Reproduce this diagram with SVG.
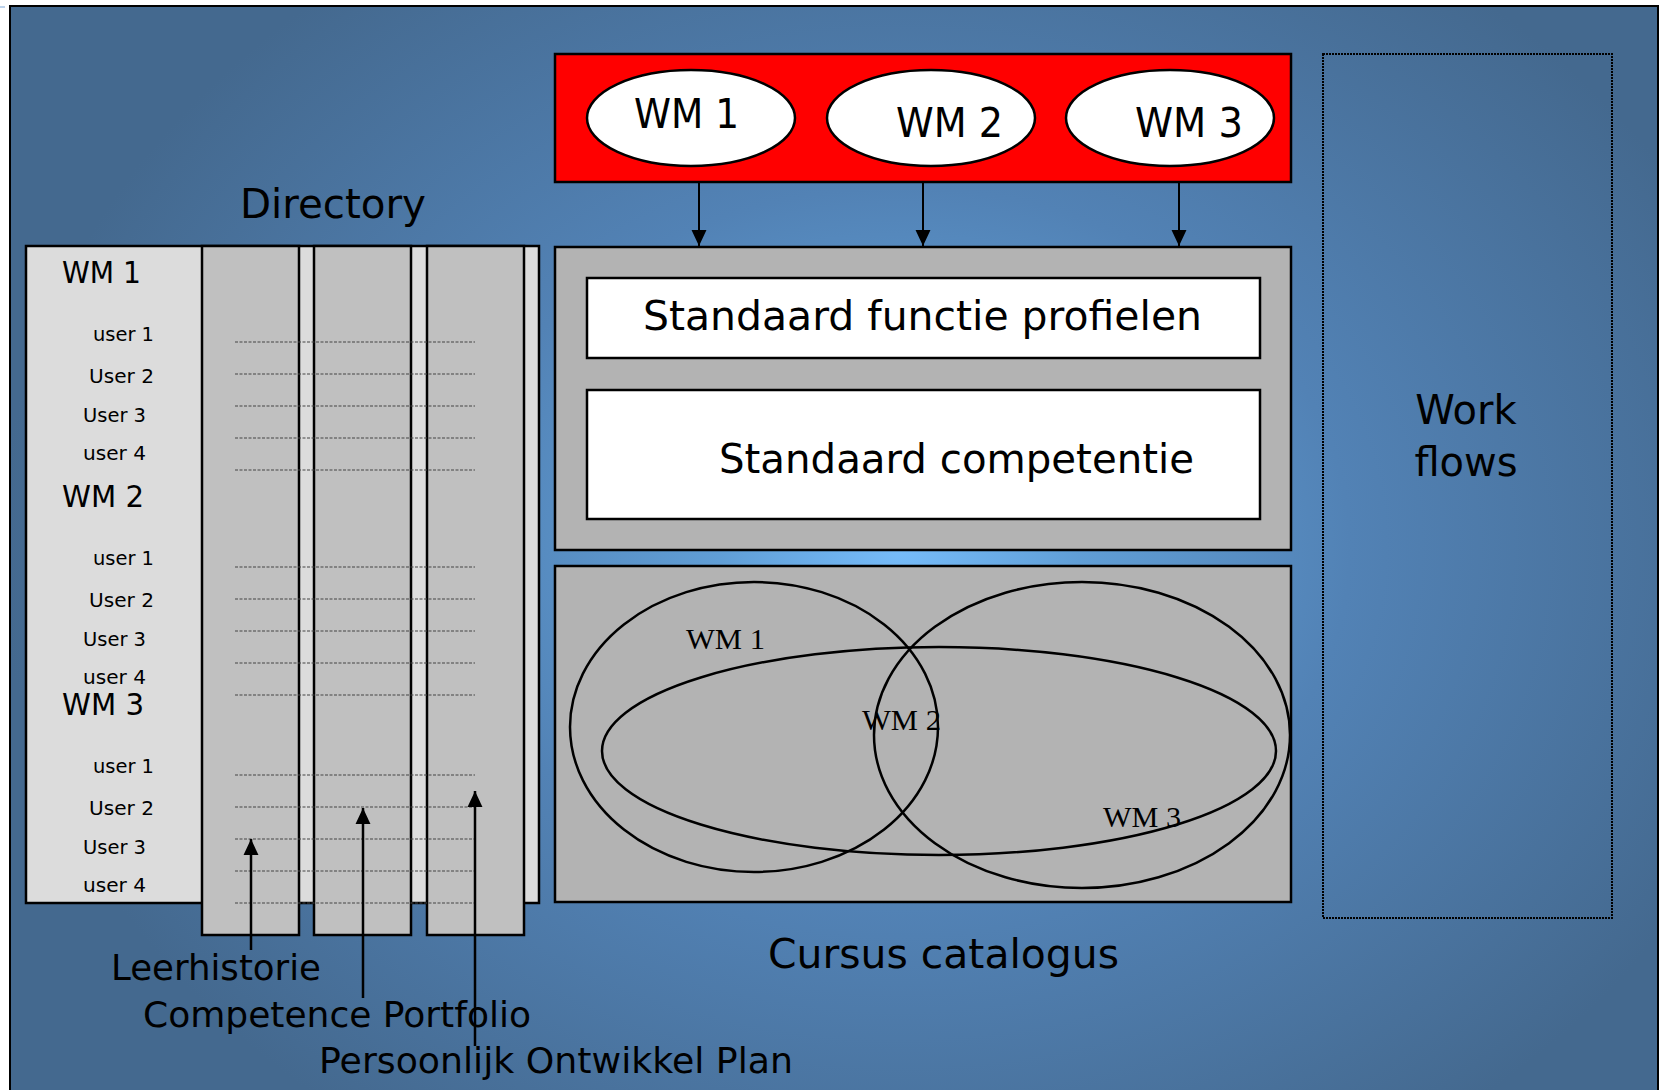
<svg xmlns="http://www.w3.org/2000/svg" width="1662" height="1090" viewBox="0 0 1662 1090">
<defs>
<radialGradient id="bg" gradientUnits="userSpaceOnUse" cx="900" cy="548" r="900" gradientTransform="translate(900 548) scale(1 0.8) translate(-900 -548)">
<stop offset="0" stop-color="#76bcfa"/>
<stop offset="0.2" stop-color="#609ed6"/>
<stop offset="0.5" stop-color="#5282b5"/>
<stop offset="1" stop-color="#44698f"/>
</radialGradient>
<marker id="ah" markerUnits="userSpaceOnUse" markerWidth="16" markerHeight="16" viewBox="0 0 15 14" refX="15" refY="7" orient="auto">
<path d="M0,0 L15,7 L0,14 z" fill="#000"/>
</marker>
<style>
.t{font-family:"DejaVu Sans","Liberation Sans",sans-serif;fill:#000}
.s{font-family:"Liberation Serif","Times New Roman",serif;fill:#000}
.box{stroke:#000;stroke-width:2.5}
.dot{stroke:#444;stroke-width:1;stroke-dasharray:3 1.5;fill:none}
.con{stroke:#000;stroke-width:2;fill:none;marker-end:url(#ah)}
.con2{stroke:#000;stroke-width:2.5;fill:none;marker-end:url(#ah)}
.ell{fill:none;stroke:#000;stroke-width:2.5}
</style>
</defs>
<rect x="0" y="0" width="1662" height="1090" fill="#ffffff"/>
<rect id="frame" x="10" y="6" width="1648" height="1100" fill="url(#bg)" stroke="#000" stroke-width="2"/>
<line x1="0" y1="7" x2="5" y2="7" stroke="#7aa6d8" stroke-width="1"/>

<g id="directory-title">
<text class="t" x="240" y="218" font-size="41" textLength="186" lengthAdjust="spacingAndGlyphs">Directory</text>
</g>

<g id="directory-panel">
<rect class="box" x="26" y="246" width="513" height="657" fill="#dcdcdc"/>
<rect class="box" x="202" y="246" width="97" height="689" fill="#c0c0c0" stroke-width="3"/>
<rect class="box" x="314" y="246" width="97" height="689" fill="#c0c0c0" stroke-width="3"/>
<rect class="box" x="427" y="246" width="97" height="689" fill="#c0c0c0" stroke-width="3"/>
<g class="dot">
<line x1="235" y1="342" x2="475" y2="342"/>
<line x1="235" y1="374" x2="475" y2="374"/>
<line x1="235" y1="406" x2="475" y2="406"/>
<line x1="235" y1="438" x2="475" y2="438"/>
<line x1="235" y1="470" x2="475" y2="470"/>
<line x1="235" y1="567" x2="475" y2="567"/>
<line x1="235" y1="599" x2="475" y2="599"/>
<line x1="235" y1="631" x2="475" y2="631"/>
<line x1="235" y1="663" x2="475" y2="663"/>
<line x1="235" y1="695" x2="475" y2="695"/>
<line x1="235" y1="775" x2="475" y2="775"/>
<line x1="235" y1="807" x2="475" y2="807"/>
<line x1="235" y1="839" x2="475" y2="839"/>
<line x1="235" y1="871" x2="475" y2="871"/>
<line x1="235" y1="903" x2="475" y2="903"/>
</g>
<text class="t" x="62" y="283" font-size="30" textLength="79" lengthAdjust="spacingAndGlyphs">WM 1</text>
<text class="t" x="93" y="341" font-size="20" textLength="61" lengthAdjust="spacingAndGlyphs">user 1</text>
<text class="t" x="89" y="383" font-size="20" textLength="65" lengthAdjust="spacingAndGlyphs">User 2</text>
<text class="t" x="83" y="422" font-size="20" textLength="63" lengthAdjust="spacingAndGlyphs">User 3</text>
<text class="t" x="83" y="460" font-size="20" textLength="63" lengthAdjust="spacingAndGlyphs">user 4</text>
<text class="t" x="62" y="507" font-size="30" textLength="82" lengthAdjust="spacingAndGlyphs">WM 2</text>
<text class="t" x="93" y="565" font-size="20" textLength="61" lengthAdjust="spacingAndGlyphs">user 1</text>
<text class="t" x="89" y="607" font-size="20" textLength="65" lengthAdjust="spacingAndGlyphs">User 2</text>
<text class="t" x="83" y="646" font-size="20" textLength="63" lengthAdjust="spacingAndGlyphs">User 3</text>
<text class="t" x="83" y="684" font-size="20" textLength="63" lengthAdjust="spacingAndGlyphs">user 4</text>
<text class="t" x="62" y="715" font-size="30" textLength="82" lengthAdjust="spacingAndGlyphs">WM 3</text>
<text class="t" x="93" y="773" font-size="20" textLength="61" lengthAdjust="spacingAndGlyphs">user 1</text>
<text class="t" x="89" y="815" font-size="20" textLength="65" lengthAdjust="spacingAndGlyphs">User 2</text>
<text class="t" x="83" y="854" font-size="20" textLength="63" lengthAdjust="spacingAndGlyphs">User 3</text>
<text class="t" x="83" y="892" font-size="20" textLength="63" lengthAdjust="spacingAndGlyphs">user 4</text>
</g>

<g id="wm-bar">
<rect class="box" x="555" y="54" width="736" height="128" fill="#ff0000"/>
<ellipse class="box" cx="691" cy="118" rx="104" ry="48" fill="#fff"/>
<ellipse class="box" cx="931" cy="118" rx="104" ry="48" fill="#fff"/>
<ellipse class="box" cx="1170" cy="118" rx="104" ry="48" fill="#fff"/>
<text class="t" x="634" y="128" font-size="40" textLength="105" lengthAdjust="spacingAndGlyphs">WM 1</text>
<text class="t" x="896" y="137" font-size="40" textLength="107" lengthAdjust="spacingAndGlyphs">WM 2</text>
<text class="t" x="1135" y="137" font-size="40" textLength="108" lengthAdjust="spacingAndGlyphs">WM 3</text>
</g>

<g id="standaard-box">
<rect class="box" x="555" y="247" width="736" height="303" fill="#b3b3b3"/>
<rect class="box" x="587" y="278" width="673" height="80" fill="#fff"/>
<rect class="box" x="587" y="390" width="673" height="129" fill="#fff"/>
<text class="t" x="643" y="330" font-size="41" textLength="559" lengthAdjust="spacingAndGlyphs">Standaard functie profielen</text>
<text class="t" x="719" y="473" font-size="41" textLength="475" lengthAdjust="spacingAndGlyphs">Standaard competentie</text>
</g>

<g id="cursus-catalogus">
<rect class="box" x="555" y="566" width="736" height="336" fill="#b3b3b3"/>
<ellipse class="ell" cx="754" cy="727" rx="184" ry="145"/>
<ellipse class="ell" cx="1082" cy="735" rx="208" ry="153"/>
<ellipse class="ell" cx="939" cy="751" rx="337" ry="104"/>
<text class="s" x="686" y="649" font-size="29" textLength="79" lengthAdjust="spacingAndGlyphs">WM 1</text>
<text class="s" x="862" y="730" font-size="29" textLength="79" lengthAdjust="spacingAndGlyphs">WM 2</text>
<text class="s" x="1103" y="827" font-size="29" textLength="78" lengthAdjust="spacingAndGlyphs">WM 3</text>
<text class="t" x="768" y="968" font-size="40" textLength="351" lengthAdjust="spacingAndGlyphs">Cursus catalogus</text>
</g>

<g id="workflows">
<rect x="1323" y="54" width="289" height="864" fill="none" stroke="#000" stroke-width="2" stroke-dasharray="2 1"/>
<text class="t" x="1466" y="424" font-size="40" text-anchor="middle">Work</text>
<text class="t" x="1466" y="476" font-size="40" text-anchor="middle">flows</text>
</g>

<g id="leerhistorie">
<text class="t" x="111" y="980" font-size="36" textLength="210" lengthAdjust="spacingAndGlyphs">Leerhistorie</text>
</g>
<g id="competence-portfolio">
<text class="t" x="143" y="1027" font-size="36" textLength="388" lengthAdjust="spacingAndGlyphs">Competence Portfolio</text>
</g>
<g id="persoonlijk-ontwikkel-plan">
<text class="t" x="319" y="1073" font-size="36" textLength="474" lengthAdjust="spacingAndGlyphs">Persoonlijk Ontwikkel Plan</text>
</g>

<g id="connectors">
<line class="con" x1="699" y1="183" x2="699" y2="246"/>
<line class="con" x1="923" y1="183" x2="923" y2="246"/>
<line class="con" x1="1179" y1="183" x2="1179" y2="246"/>
<line class="con2" x1="251" y1="950" x2="251" y2="839"/>
<line class="con2" x1="363" y1="998" x2="363" y2="808"/>
<line class="con2" x1="475" y1="1046" x2="475" y2="791"/>
</g>
</svg>
